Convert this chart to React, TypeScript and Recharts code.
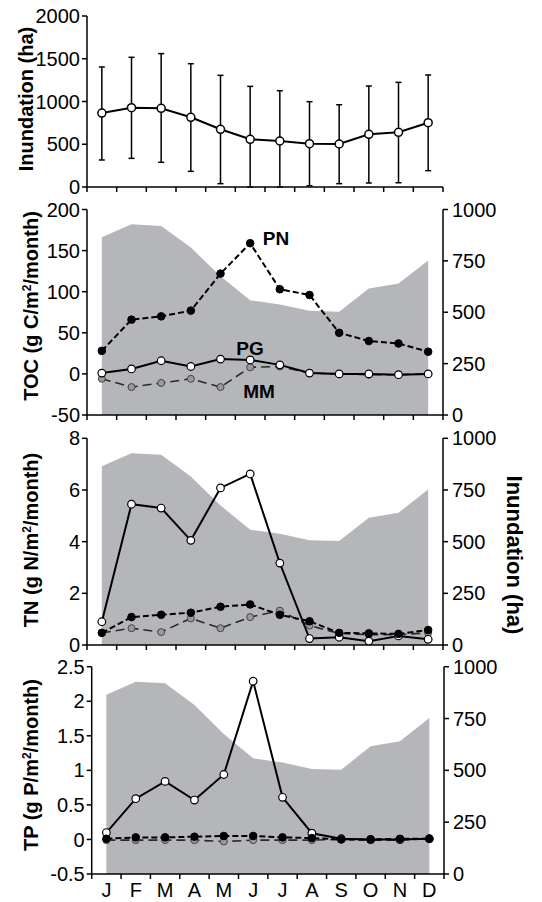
import React from "react";
import { Area, ComposedChart, ErrorBar, Line, XAxis, YAxis } from "recharts";

const FONT = "'Liberation Sans', Arial, Helvetica, sans-serif";

const months = ["J", "F", "M", "A", "M", "J", "J", "A", "S", "O", "N", "D"];

// inundation (ha): monthly mean and the ends of the error bars
const inundation = [865, 928, 920, 815, 675, 558, 538, 507, 503, 616, 640, 752];
const inundationLow = [316, 335, 289, 183, 39, 0, 0, 15, 39, 47, 50, 191];
const inundationHigh = [1404, 1517, 1560, 1442, 1306, 1177, 1126, 998, 962, 1181, 1224, 1310];

// TOC (g C/m2/month)
const tocPN = [28, 66, 70, 77, 122, 159, 103, 96, 50, 40, 37, 27];
const tocPG = [1, 6, 16, 9, 18, 17, 11, 1, 0, 0, -1, 0];
const tocMM = [-6, -16, -11, -6, -16, 8, 9, 1, 0, -1, -1, 0];

// TN (g N/m2/month)
const tnPN = [0.47, 1.08, 1.17, 1.25, 1.48, 1.57, 1.17, 0.92, 0.47, 0.45, 0.43, 0.58];
const tnPG = [0.9, 5.45, 5.3, 4.05, 6.08, 6.62, 3.17, 0.25, 0.3, 0.15, 0.35, 0.22];
const tnMM = [0.47, 0.65, 0.5, 1.03, 0.65, 1.08, 1.33, 0.75, 0.45, 0.4, 0.4, 0.47];

// TP (g P/m2/month)
const tpPN = [0.01, 0.03, 0.03, 0.04, 0.05, 0.05, 0.03, 0.02, 0, 0, 0.01, 0.01];
const tpPG = [0.1, 0.59, 0.84, 0.57, 0.94, 2.29, 0.61, 0.09, 0.01, 0, 0, 0.01];
const tpMM = [-0.01, -0.01, -0.01, -0.01, -0.03, -0.01, -0.01, -0.01, 0, -0.01, -0.01, 0.01];

const inundTicks = [0, 500, 1000, 1500, 2000];
const rightTicks = [0, 250, 500, 750, 1000];
const tocTicks = [-50, 0, 50, 100, 150, 200];
const tnTicks = [0, 2, 4, 6, 8];
const tpTicks = [-0.5, 0, 0.5, 1, 1.5, 2, 2.5];

const monthEdges = months.map((_, i) => i).concat(12);
const monthEdgesAndMids = months.flatMap((_, i) => [i, i + 0.5]).concat(12);

const AREA_FILL = "#b4b6b9";
const axisLine = { stroke: "#000", strokeWidth: 1.5 };
const tickLine = { stroke: "#000", strokeWidth: 1.5 };
const tickText = { fontSize: 20, fill: "#000", fontFamily: FONT };

const topRows = months.map((m, i) => ({
  x: i + 0.5,
  inund: inundation[i],
  err: [inundation[i] - inundationLow[i], inundationHigh[i] - inundation[i]],
}));

function nutrientRows(pn: number[], pg: number[], mm: number[]) {
  return months.map((m, i) => ({ x: i + 0.5, inund: inundation[i], pn: pn[i], pg: pg[i], mm: mm[i] }));
}

function MonthTick(props: any) {
  const { x, y, payload, showLabels } = props;
  const v = payload.value;
  if (Number.isInteger(v)) {
    return <line x1={x} x2={x} y1={y} y2={y + 5} stroke="#000" strokeWidth={1.5} />;
  }
  if (!showLabels) return <g />;
  return (
    <text x={x} y={y + 23} textAnchor="middle" fontSize={20} fill="#000" fontFamily={FONT}>
      {months[Math.floor(v)]}
    </text>
  );
}

function Title({ x, y, angle = -90, size = 20, children }: any) {
  return (
    <div
      style={{
        position: "absolute",
        left: x,
        top: y,
        transform: `translate(-50%, -50%) rotate(${angle}deg)`,
        whiteSpace: "nowrap",
        font: `bold ${size}px ${FONT}`,
        lineHeight: 1,
        color: "#000",
      }}
    >
      {children}
    </div>
  );
}

function Sq() {
  return <span style={{ fontSize: "0.6em", verticalAlign: "0.6em" }}>2</span>;
}

function InundationPanel() {
  return (
    <div style={{ position: "absolute", left: 0, top: 0 }}>
      <ComposedChart width={542} height={200} data={topRows} margin={{ top: 16, right: 99, bottom: 5, left: 7 }}>
        <XAxis
          type="number"
          dataKey="x"
          domain={[0, 12]}
          ticks={monthEdges}
          interval={0}
          tickLine={false}
          tickSize={0}
          tickMargin={0}
          height={8}
          axisLine={axisLine}
          tick={(p: any) => <MonthTick {...p} showLabels={false} />}
          allowDataOverflow
        />
        <YAxis
          domain={[0, 2000]}
          ticks={inundTicks}
          interval={0}
          width={80}
          tickSize={5}
          tickMargin={2}
          axisLine={axisLine}
          tickLine={tickLine}
          tick={tickText}
          allowDataOverflow
        />
        <Line
          dataKey="inund"
          type="linear"
          stroke="#000"
          strokeWidth={2}
          dot={{ r: 4, fill: "#fff", stroke: "#000", strokeWidth: 1.5 }}
          isAnimationActive={false}
        >
          <ErrorBar dataKey="err" direction="y" width={3} stroke="#000" strokeWidth={1.5} />
        </Line>
      </ComposedChart>
    </div>
  );
}

function NutrientPanel({ top, height, margin, data, domain, ticks, showMonths }: any) {
  return (
    <div style={{ position: "absolute", left: 0, top }}>
      <ComposedChart width={542} height={height} data={data} margin={margin}>
        <XAxis
          xAxisId="x"
          type="number"
          dataKey="x"
          domain={[0, 12]}
          ticks={showMonths ? monthEdgesAndMids : monthEdges}
          interval={0}
          tickLine={false}
          tickSize={0}
          tickMargin={0}
          height={showMonths ? 28 : 8}
          axisLine={axisLine}
          tick={(p: any) => <MonthTick {...p} showLabels={showMonths} />}
          allowDataOverflow
        />
        <YAxis
          yAxisId="l"
          domain={domain}
          ticks={ticks}
          interval={0}
          width={80}
          tickSize={5}
          tickMargin={2}
          axisLine={axisLine}
          tickLine={tickLine}
          tick={tickText}
          allowDataOverflow
        />
        <YAxis
          yAxisId="r"
          orientation="right"
          domain={[0, 1000]}
          ticks={rightTicks}
          interval={0}
          width={70}
          tickSize={5}
          tickMargin={4}
          axisLine={axisLine}
          tickLine={tickLine}
          tick={tickText}
          allowDataOverflow
        />
        <Area
          xAxisId="x"
          yAxisId="r"
          dataKey="inund"
          type="linear"
          fill={AREA_FILL}
          fillOpacity={1}
          stroke="none"
          isAnimationActive={false}
        />
        <Line
          xAxisId="x"
          yAxisId="l"
          dataKey="mm"
          type="linear"
          stroke="#2a2a2a"
          strokeWidth={1.6}
          strokeDasharray="9 5"
          dot={{ r: 3.5, fill: "#9a9a9a", stroke: "#444", strokeWidth: 1, strokeDasharray: "none" }}
          isAnimationActive={false}
        />
        <Line
          xAxisId="x"
          yAxisId="l"
          dataKey="pg"
          type="linear"
          stroke="#000"
          strokeWidth={2}
          dot={{ r: 3.8, fill: "#fff", stroke: "#000", strokeWidth: 1.2 }}
          isAnimationActive={false}
        />
        <Line
          xAxisId="x"
          yAxisId="l"
          dataKey="pn"
          type="linear"
          stroke="#000"
          strokeWidth={2}
          strokeDasharray="6 3"
          dot={{ r: 3.8, fill: "#000", stroke: "#000", strokeWidth: 1, strokeDasharray: "none" }}
          isAnimationActive={false}
        />
      </ComposedChart>
    </div>
  );
}

export default function App() {
  return (
    <div style={{ position: "absolute", left: 0, top: 0, width: 542, height: 902, background: "#fff", fontFamily: FONT }}>
      <InundationPanel />
      <NutrientPanel
        top={185}
        height={245}
        margin={{ top: 24.5, right: 29, bottom: 7, left: 7 }}
        data={nutrientRows(tocPN, tocPG, tocMM)}
        domain={[-50, 200]}
        ticks={tocTicks}
        showMonths={false}
      />
      <NutrientPanel
        top={418}
        height={242}
        margin={{ top: 20.3, right: 29, bottom: 7, left: 7 }}
        data={nutrientRows(tnPN, tnPG, tnMM)}
        domain={[0, 8]}
        ticks={tnTicks}
        showMonths={false}
      />
      <NutrientPanel
        top={647}
        height={255}
        margin={{ top: 19.7, right: 28, bottom: 0, left: 11.7 }}
        data={nutrientRows(tpPN, tpPG, tpMM)}
        domain={[-0.5, 2.5]}
        ticks={tpTicks}
        showMonths={true}
      />

      <Title x={26} y={99}>Inundation (ha)</Title>
      <Title x={30.5} y={306}>
        TOC (g C/m<Sq />/month)
      </Title>
      <Title x={30.5} y={540}>
        TN (g N/m<Sq />/month)
      </Title>
      <Title x={30.5} y={765}>
        TP (g P/m<Sq />/month)
      </Title>
      <Title x={514} y={555} angle={90} size={22}>
        Inundation (ha)
      </Title>

      <Title x={276} y={238} angle={0} size={19}>PN</Title>
      <Title x={250} y={348} angle={0} size={19}>PG</Title>
      <Title x={259} y={391} angle={0} size={19}>MM</Title>
    </div>
  );
}
